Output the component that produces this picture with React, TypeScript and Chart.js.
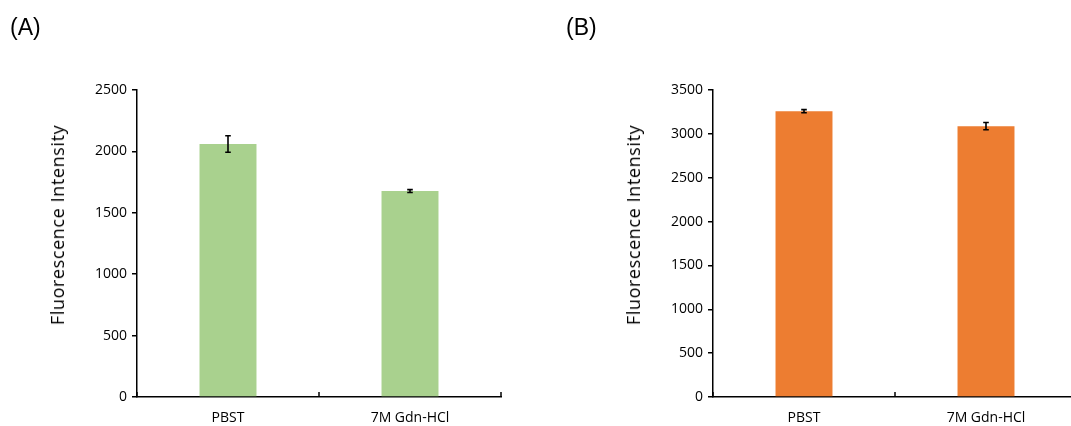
import React, { useEffect, useRef } from "react";
import { Chart, registerables } from "chart.js";

Chart.register(...registerables);

// ---- data ----
const categories = ["PBST", "7M Gdn-HCl"];
const valuesA = [2060, 1677];
const errorsA = [67, 12];
const valuesB = [3258, 3088];
const errorsB = [18, 42];
const ticksA = [0, 500, 1000, 1500, 2000, 2500];
const ticksB = [0, 500, 1000, 1500, 2000, 2500, 3000, 3500];
const yTitle = "Fluorescence Intensity";
const panelLabels = ["(A)", "(B)"];

const TICK_FONT = { family: "'Open Sans', sans-serif", size: 14 };
const TEXT_COLOR = "#000";

const errorBarPlugin = {
  id: "errorBars",
  afterDatasetsDraw(chart: any, _args: any, opts: any) {
    const errs: number[] = opts.errors || [];
    const vals: number[] = chart.data.datasets[0].data;
    const meta = chart.getDatasetMeta(0);
    const y = chart.scales.y;
    const ctx = chart.ctx;
    ctx.save();
    ctx.strokeStyle = "#000";
    ctx.lineWidth = 1.6;
    meta.data.forEach((bar: any, i: number) => {
      const x = bar.x;
      const yt = y.getPixelForValue(vals[i] + errs[i]);
      const yb = y.getPixelForValue(vals[i] - errs[i]);
      const cap = 2.8;
      ctx.beginPath();
      ctx.moveTo(x, yt);
      ctx.lineTo(x, yb);
      ctx.moveTo(x - cap, yt);
      ctx.lineTo(x + cap, yt);
      ctx.moveTo(x - cap, yb);
      ctx.lineTo(x + cap, yb);
      ctx.stroke();
    });
    ctx.restore();
  },
};

// inward tick marks on the category axis, at category boundaries
const innerTickPlugin = {
  id: "innerTicks",
  afterDraw(chart: any) {
    const xs = chart.scales.x;
    const n = chart.data.labels.length;
    const ctx = chart.ctx;
    const yb = chart.chartArea.bottom;
    ctx.save();
    ctx.strokeStyle = "#000";
    ctx.lineWidth = 1.5;
    for (let i = 0; i <= n; i++) {
      const px = xs.getPixelForValue(i - 0.5);
      ctx.beginPath();
      ctx.moveTo(px, yb);
      ctx.lineTo(px, yb - 5);
      ctx.stroke();
    }
    ctx.restore();
  },
};

function BarPanel(props: {
  values: number[];
  errors: number[];
  ticks: number[];
  color: string;
  yWidth: number;
  padRight: number;
  width: number;
}) {
  const ref = useRef<HTMLCanvasElement | null>(null);
  useEffect(() => {
    if (!ref.current) return;
    const { values, errors, ticks, color, yWidth, padRight } = props;
    const chart = new Chart(ref.current, {
      type: "bar",
      data: {
        labels: categories,
        datasets: [
          {
            data: values,
            backgroundColor: color,
            borderWidth: 0,
            barPercentage: 0.313,
            categoryPercentage: 1,
          },
        ],
      },
      options: {
        responsive: false,
        animation: false,
        events: [],
        layout: { padding: { top: 90, right: padRight, left: 0, bottom: 0 } },
        plugins: {
          legend: { display: false },
          tooltip: { enabled: false },
          title: { display: false },
          errorBars: { errors },
        } as any,
        scales: {
          x: {
            type: "category",
            offset: true,
            grid: { display: false },
            border: { display: true, color: "#000", width: 1.5 },
            ticks: { font: TICK_FONT, color: TEXT_COLOR, padding: 5 },
            afterFit: (s: any) => {
              s.height = 29;
            },
          },
          y: {
            min: ticks[0],
            max: ticks[ticks.length - 1],
            grid: {
              display: true,
              drawOnChartArea: false,
              drawTicks: true,
              tickLength: 5,
              color: "#000",
              lineWidth: 1.5,
            },
            border: { display: true, color: "#000", width: 1.5 },
            ticks: {
              font: TICK_FONT,
              color: TEXT_COLOR,
              padding: 5,
              callback: (v: any) => String(v),
            },
            afterBuildTicks: (s: any) => {
              s.ticks = ticks.map((v) => ({ value: v }));
            },
            afterFit: (s: any) => {
              s.width = yWidth;
            },
          },
        },
      } as any,
      plugins: [errorBarPlugin, innerTickPlugin],
    });
    return () => chart.destroy();
  }, []);
  return <canvas ref={ref} width={props.width} height={426} />;
}

const labelStyle: React.CSSProperties = {
  position: "absolute",
  top: 14,
  fontFamily: "'Liberation Sans', Arial, sans-serif",
  fontSize: 23,
  color: "#000",
  lineHeight: "normal",
};

const titleStyle = (cx: number, cy: number): React.CSSProperties => ({
  position: "absolute",
  left: cx,
  top: cy,
  transform: "translate(-50%, -50%) rotate(-90deg)",
  whiteSpace: "nowrap",
  fontFamily: "'Open Sans', sans-serif",
  fontSize: 18,
  letterSpacing: "0.6px",
  color: TEXT_COLOR,
  lineHeight: "normal",
});

export default function App() {
  return (
    <div
      style={{
        position: "absolute",
        left: 0,
        top: 0,
        width: 1071,
        height: 426,
        overflow: "hidden",
        background: "#fff",
      }}
    >
      <div style={{ position: "absolute", left: 0, top: 0 }}>
        <BarPanel
          values={valuesA}
          errors={errorsA}
          ticks={ticksA}
          color="#A9D18E"
          yWidth={137}
          padRight={29}
          width={530}
        />
      </div>
      <div style={{ position: "absolute", left: 560, top: 0 }}>
        <BarPanel
          values={valuesB}
          errors={errorsB}
          ticks={ticksB}
          color="#ED7D31"
          yWidth={153}
          padRight={13}
          width={530}
        />
      </div>
      <div style={{ ...labelStyle, left: 10 }}>{panelLabels[0]}</div>
      <div style={{ ...labelStyle, left: 566 }}>{panelLabels[1]}</div>
      <div style={titleStyle(57, 225)}>{yTitle}</div>
      <div style={titleStyle(633, 225)}>{yTitle}</div>
    </div>
  );
}
